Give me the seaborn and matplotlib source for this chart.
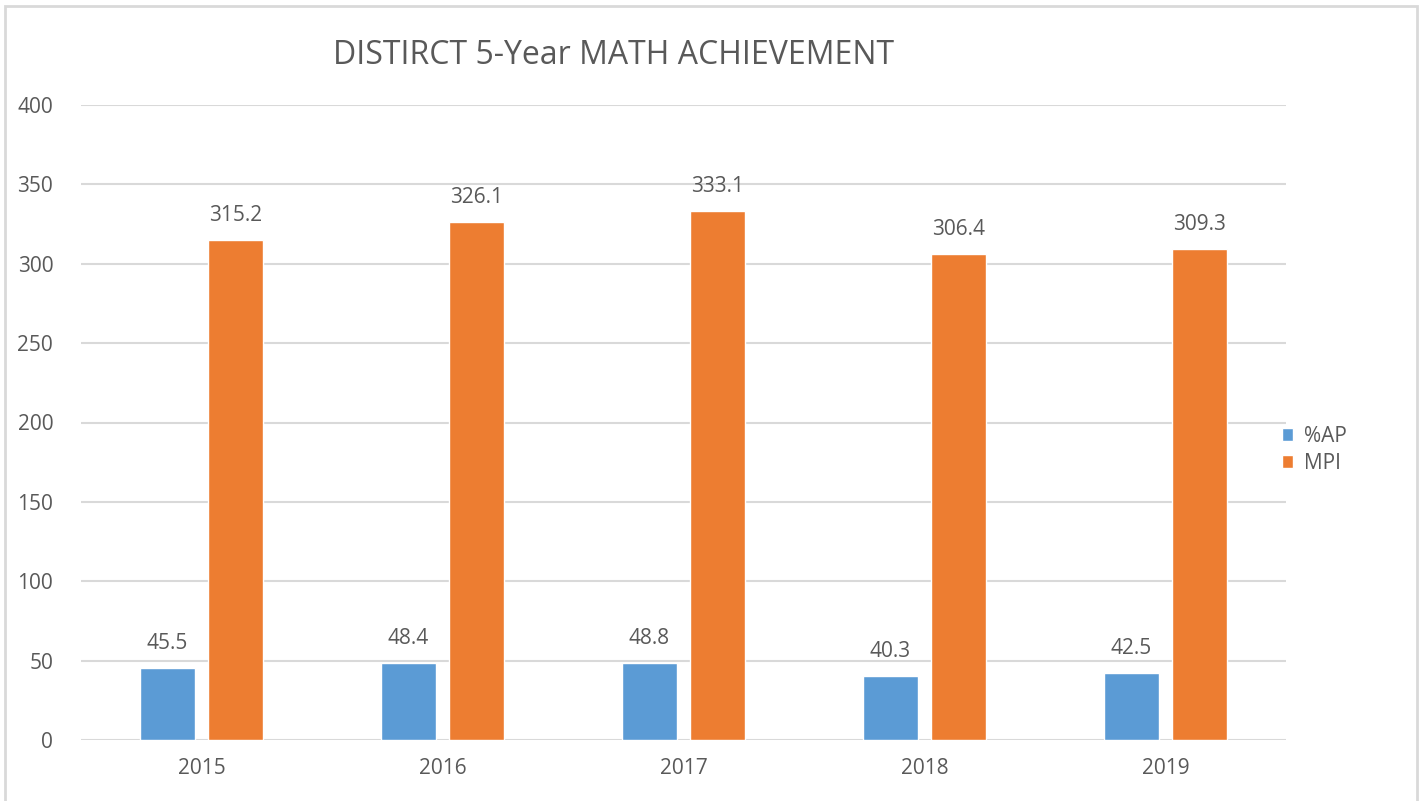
import matplotlib
matplotlib.use("Agg")
import matplotlib.pyplot as plt
import seaborn as sns
import pandas as pd
from matplotlib.patches import Rectangle

years = ["2015", "2016", "2017", "2018", "2019"]
ap_values = [45.5, 48.4, 48.8, 40.3, 42.5]
mpi_values = [315.2, 326.1, 333.1, 306.4, 309.3]
series_names = ["%AP", "MPI"]
title = "DISTIRCT 5-Year MATH ACHIEVEMENT"
yticks = [0, 50, 100, 150, 200, 250, 300, 350, 400]

df = pd.DataFrame({
    "Year": years * 2,
    "Series": [series_names[0]] * len(years) + [series_names[1]] * len(years),
    "Value": ap_values + mpi_values,
})

sns.set_theme(style="white")
plt.rcParams["font.family"] = ["Open Sans", "DejaVu Sans"]

text_color = "#595959"
grid_color = "#d9d9d9"
palette = {"%AP": "#5B9BD5", "MPI": "#ED7D31"}
fs = 15

fig = plt.figure(figsize=(14.24, 8.01), dpi=100)
ax = fig.add_axes([81 / 1424, 61 / 801, 1205 / 1424, 635 / 801])

sns.barplot(data=df, x="Year", y="Value", hue="Series", palette=palette,
            width=0.564, gap=0.2, ax=ax, saturation=1, legend=True)

for cont in ax.containers:
    ax.bar_label(cont, fmt="%.1f", padding=10, fontsize=fs, color=text_color)

ax.set_ylim(0, 400)
ax.set_yticks(yticks)
ax.set_xlim(-0.5, 4.5)
ax.yaxis.grid(True, color=grid_color, linewidth=1.5)
ax.set_axisbelow(True)
for s in ax.spines.values():
    s.set_visible(False)
ax.tick_params(axis="both", length=0, colors=text_color, labelsize=fs)
ax.tick_params(axis="y", pad=20)
ax.tick_params(axis="x", pad=13)
ax.set_xlabel("")
ax.set_ylabel("")

leg = ax.legend(loc="center left", bbox_to_anchor=(1282 / 1424, 1 - 450 / 801),
                bbox_transform=fig.transFigure, frameon=False,
                fontsize=fs, handlelength=0.55, handleheight=0.55,
                labelspacing=0.3, handletextpad=0.5, borderpad=0,
                borderaxespad=0)
for t in leg.get_texts():
    t.set_color(text_color)

fig.text(614 / 1424, 1 - 55 / 801, title, ha="center", va="center",
         fontsize=23, color=text_color)

fig.patches.append(Rectangle((5 / 1424, -0.05), 1412 / 1424, 1.05 - 6 / 801,
                             transform=fig.transFigure, fill=False,
                             edgecolor=grid_color, linewidth=2))

fig.savefig("out.png", dpi=100, facecolor="white")
